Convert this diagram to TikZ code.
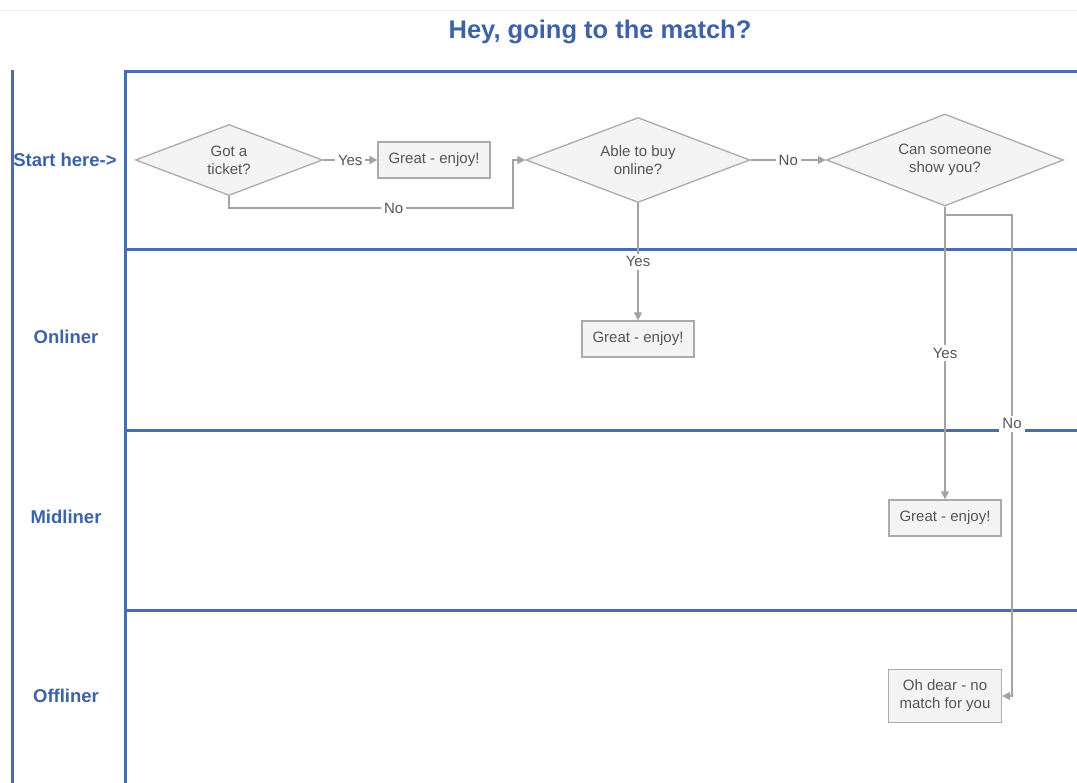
\documentclass[tikz,border=0pt]{standalone}
\usepackage{fontspec}
\setmainfont{Liberation Sans}
\usetikzlibrary{shapes.geometric,arrows.meta}
\definecolor{laneblue}{HTML}{4A6DAD}
\definecolor{textblue}{HTML}{3E62A6}
\definecolor{nodegray}{HTML}{ABABAB}
\definecolor{nodefill}{HTML}{F4F4F4}
\definecolor{linkgray}{HTML}{A3A3A3}
\definecolor{labelgray}{HTML}{555555}
\definecolor{rulegray}{HTML}{EEEEEE}

\begin{document}
\begin{tikzpicture}[x=1pt,y=-1pt,
  lane/.style={draw=laneblue, line width=3pt},
  lanelabel/.style={text=textblue, font=\bfseries\fontsize{18.5}{21}\selectfont},
  decision/.style={diamond, aspect=2.6, draw=nodegray, fill=nodefill, line width=1.3pt,
    inner sep=0pt, text=labelgray, align=center,
    font=\fontsize{15}{18}\selectfont},
  outcome/.style={rectangle, draw=nodegray, fill=nodefill, line width=1.3pt,
    inner sep=2pt, text=labelgray, align=center,
    font=\fontsize{15}{18}\selectfont},
  link/.style={draw=linkgray, line width=1.3pt,
    -{Triangle[length=8pt,width=8pt]}},
  linklabel/.style={fill=white, text=labelgray, inner sep=3pt,
    font=\fontsize{15}{17}\selectfont}
]
\useasboundingbox (0,0) rectangle (1077,783);

% thin rule at the very top
\draw[rulegray, line width=0.8pt] (0,10) -- (1077,10);

% title
\node[text=textblue, font=\bfseries\fontsize{25.5}{30}\selectfont] (title) at (600,32) {Hey, going to the match?};

% swimlane frame
\draw[lane] (12,70) -- (12,783);
\draw[lane] (125,783) -- (125,72) -- (1077,72);
\draw[lane] (125,250) -- (1077,250);
\draw[lane] (125,431) -- (1077,431);
\draw[lane] (125,610) -- (1077,610);

% lane titles
\node[lanelabel] (lstart) at (65,160) {Start here->};
\node[lanelabel] (lon)    at (66,337) {Onliner};
\node[lanelabel] (lmid)   at (66,517) {Midliner};
\node[lanelabel] (loff)   at (66,696) {Offliner};

% decisions
\node[decision, minimum width=187pt, minimum height=71pt] (d1) at (229,160) {Got a\\ticket?};
\node[decision, minimum width=224pt, minimum height=85pt] (d2) at (638,160) {Able to buy\\online?};
\node[decision, minimum width=237pt, minimum height=92pt] (d3) at (945,160) {Can someone\\show you?};

% outcomes
\node[outcome, minimum width=112pt, minimum height=36pt] (g1) at (434,160) {Great - enjoy!};
\node[outcome, minimum width=112pt, minimum height=36pt] (g2) at (638,339) {Great - enjoy!};
\node[outcome, minimum width=112pt, minimum height=36pt] (g3) at (945,518) {Great - enjoy!};
\node[outcome, minimum width=113pt, minimum height=53pt] (g4) at (945,696) {Oh dear - no\\match for you};

% bend points
\coordinate (c1) at (513,208);
\coordinate (c2) at (1012,215);
\coordinate (c3) at (945,215);

% connectors
\draw[link] (d1.east) -- node[linklabel] {Yes} (g1.west);
\draw[link] (d1.south) |- node[linklabel, pos=0.79] {No} (c1) |- (d2.west);
\draw[link] (d2.east) -- node[linklabel] {No} (d3.west);
\draw[link] (d2.south) -- node[linklabel, pos=0.5] {Yes} (g2.north);
\draw[link] (d3.south) -- node[linklabel, pos=0.5] {Yes} (g3.north);
\draw[link] (c3) -- (c2) |- node[linklabel, pos=0.217] {No} (g4.east);
\end{tikzpicture}
\end{document}
